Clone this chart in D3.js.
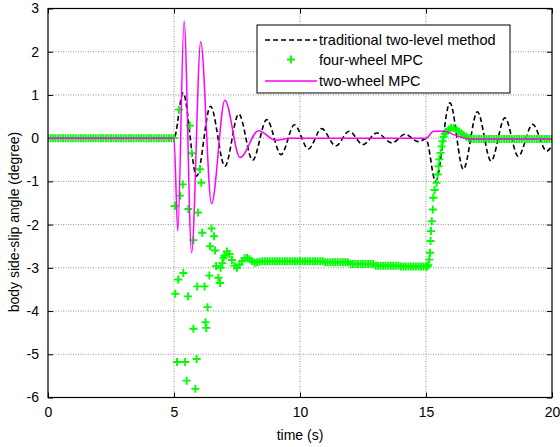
<!DOCTYPE html>
<html>
<head>
<meta charset="utf-8">
<script src="https://cdn.jsdelivr.net/npm/d3@7"></script>
<style>
  body { margin: 0; background: #fff; }
  text { font-family: Arial, "Liberation Sans", sans-serif; }
</style>
</head>
<body>
<div id="canvas"></div>
<script>
/**
 * Chart data
 */
const timeTicks = [0, 5, 10, 15, 20];
const angleTicks = [-6, -5, -4, -3, -2, -1, 0, 1, 2, 3];

const seriesNames = ["traditional two-level method", "four-wheel MPC", "two-wheel MPC"];

// traditional two-level method (peaks and troughs)
const twoLevelT = [0, 5.0, 5.36, 5.90, 6.45, 7.02, 7.57, 8.12, 8.68, 9.25, 9.78, 10.33, 10.86, 11.42, 11.95,
    12.5, 13.05, 13.65, 14.17, 14.7, 15.0, 15.38, 15.95, 16.48, 17.04, 17.58, 18.13, 18.66, 19.23, 19.79, 20];
const twoLevelY = [0, 0, 1.05, -0.88, 0.74, -0.65, 0.56, -0.51, 0.43, -0.38, 0.31, -0.25, 0.22, -0.18, 0.16,
    -0.15, 0.12, -0.11, 0.09, -0.08, -0.02, -1.0, 0.82, -0.72, 0.61, -0.53, 0.47, -0.42, 0.32, -0.30, -0.16];

// two-wheel MPC
const twoWheelT = [0, 5.0, 5.15, 5.40, 5.70, 6.06, 6.49, 7.02, 7.62, 8.35, 9.05, 9.6, 15.0, 15.3, 15.7, 16.2, 16.75, 20];
const twoWheelY = [0, 0, -2.15, 2.71, -2.65, 2.23, -1.52, 0.88, -0.45, 0.17, -0.05, 0.0, 0.0, 0.16, 0.16, 0.06, -0.02, -0.02];

// four-wheel MPC, sampled every 0.1 s where the markers are dense
const fourWheelStep = 0.1;
const fourWheelPre = [
    0, 0, 0, 0, 0, 0, 0, 0, 0, 0,
    0, 0, 0, 0, 0, 0, 0, 0, 0, 0,
    0, 0, 0, 0, 0, 0, 0, 0, 0, 0,
    0, 0, 0, 0, 0, 0, 0, 0, 0, 0,
    0, 0, 0, 0, 0, 0, 0, 0, 0, 0, 0
]; // 0.0 .. 5.0 s

// scattered markers during the manoeuvre
const fourWheelScatter = [
    [5.04, -1.57], [5.05, -3.6], [5.12, -5.18], [5.17, -3.27], [5.2, 0.66], [5.24, -1.33],
    [5.35, -1.07], [5.37, -3.12], [5.44, -5.18], [5.5, -5.61], [5.57, -1.64], [5.56, -3.66],
    [5.63, 0.29], [5.70, -0.35], [5.77, -2.36], [5.77, -4.41], [5.85, -5.8], [5.92, -3.43],
    [5.9, -5.11], [5.95, -1.72], [6.03, -0.72], [6.08, -1.03], [6.12, -2.19], [6.21, -3.43],
    [6.25, -4.26], [6.28, -4.39], [6.33, -3.91], [6.43, -2.5], [6.40, -3.18], [6.49, -2.09],
    [6.59, -2.27], [6.63, -2.6], [6.67, -2.96], [6.76, -3.23], [6.83, -3.35], [6.85, -3.0],
    [6.96, -2.77], [6.92, -2.89]
];

const fourWheelHold = [
    -2.72, -2.62, -2.68, -2.82, -2.95, -3.0, -2.93, -2.84, -2.78, -2.77,
    -2.80, -2.85, -2.88, -2.87, -2.86, -2.85, -2.85, -2.85, -2.85, -2.85,
    -2.85, -2.85, -2.85, -2.85, -2.85, -2.85, -2.85, -2.85, -2.85, -2.85,
    -2.85, -2.85, -2.85, -2.85, -2.85, -2.85, -2.85, -2.85, -2.85, -2.85,
    -2.87, -2.87, -2.87, -2.87, -2.87, -2.87, -2.87, -2.87, -2.87, -2.87,
    -2.91, -2.91, -2.91, -2.91, -2.91, -2.91, -2.91, -2.91, -2.91, -2.91,
    -2.95, -2.95, -2.95, -2.95, -2.95, -2.95, -2.95, -2.95, -2.95, -2.95,
    -2.97, -2.97, -2.97, -2.97, -2.97, -2.97, -2.97, -2.97, -2.97, -2.97, -2.97
]; // 7.0 .. 15.0 s

const fourWheelRise = [
    [15.05, -2.97], [15.09, -2.94], [15.13, -2.81], [15.16, -2.65], [15.18, -2.38], [15.2, -2.15],
    [15.23, -1.92], [15.27, -1.65], [15.29, -1.38], [15.34, -1.2], [15.42, -1.03], [15.46, -0.84],
    [15.5, -0.65], [15.53, -0.49], [15.58, -0.34], [15.62, -0.19], [15.66, -0.07], [15.7, 0.03],
    [15.75, 0.1], [15.8, 0.15], [15.9, 0.2], [16.0, 0.24], [16.1, 0.23], [16.2, 0.2],
    [16.3, 0.16], [16.4, 0.11], [16.5, 0.07], [16.6, 0.03], [16.7, 0.0], [16.8, -0.02]
];

const fourWheelEnd = [
    -0.02, -0.02, -0.02, -0.02, -0.02, -0.02, -0.02, -0.02, -0.02, -0.02,
    -0.02, -0.02, -0.02, -0.02, -0.02, -0.02, -0.02, -0.02, -0.02, -0.02,
    -0.02, -0.02, -0.02, -0.02, -0.02, -0.02, -0.02, -0.02, -0.02, -0.02,
    -0.02, -0.02
]; // 16.9 .. 20.0 s

/**
 * Helper Functions
 */
const zipSeries = (ts, ys) => ts.map((t, i) => ({ t: t, y: ys[i] }));

const sampled = (values, t0) => values.map((y, i) => ({ t: t0 + i * fourWheelStep, y: y }));

const plusMark = "M-4,0H4M0,-4V4";

function drawChart() {
    // set the dimensions and margins of the graph
    let margin = {top: 8.5, right: 8, bottom: 49.5, left: 48},
        width = 560 - margin.left - margin.right,
        height = 447 - margin.top - margin.bottom;

    let svg = d3.select("#canvas")
        .append("svg")
        .attr("width", 560)
        .attr("height", 447);

    let g = svg.append("g")
        .attr("transform", "translate(" + margin.left + "," + margin.top + ")");

    let x = d3.scaleLinear().domain([0, 20]).range([0, width]);
    let y = d3.scaleLinear().domain([-6, 3]).range([height, 0]);

    // grid
    g.append("g")
        .selectAll("line")
        .data(timeTicks.slice(1, -1))
        .enter().append("line")
        .attr("x1", d => x(d)).attr("x2", d => x(d))
        .attr("y1", 0).attr("y2", height)
        .attr("stroke", "#777").attr("stroke-width", 0.8).attr("stroke-dasharray", "1,1.5");
    g.append("g")
        .selectAll("line")
        .data(angleTicks.slice(1, -1))
        .enter().append("line")
        .attr("y1", d => y(d)).attr("y2", d => y(d))
        .attr("x1", 0).attr("x2", width)
        .attr("stroke", "#777").attr("stroke-width", 0.8).attr("stroke-dasharray", "1,1.5");

    // axes: ticks on all four sides pointing inwards
    let xAxis = g.append("g")
        .attr("transform", "translate(0," + height + ")")
        .call(d3.axisBottom(x).tickValues(timeTicks).tickFormat(d3.format("d")).tickSizeInner(-5).tickSizeOuter(0).tickPadding(10));
    let yAxis = g.append("g")
        .call(d3.axisLeft(y).tickValues(angleTicks).tickFormat(d => d < 0 ? "-" + Math.abs(d) : d).tickSizeInner(-5).tickSizeOuter(0).tickPadding(9));
    g.append("g")
        .call(d3.axisTop(x).tickValues(timeTicks).tickFormat("").tickSizeInner(-5).tickSizeOuter(0));
    g.append("g")
        .attr("transform", "translate(" + width + ",0)")
        .call(d3.axisRight(y).tickValues(angleTicks).tickFormat("").tickSizeInner(-5).tickSizeOuter(0));

    g.selectAll(".domain").remove();
    g.selectAll(".tick line").attr("stroke", "#000");
    [xAxis, yAxis].forEach(a => a.selectAll("text")
        .attr("font-size", "14px")
        .attr("fill", "#000")
        .attr("font-family", "Arial, 'Liberation Sans', sans-serif"));

    // clip the series to the plot area
    g.append("defs").append("clipPath")
        .attr("id", "clip")
        .append("rect")
        .attr("width", width).attr("height", height);

    let plot = g.append("g").attr("clip-path", "url(#clip)");

    let line = d3.line()
        .x(d => x(d.t))
        .y(d => y(d.y))
        .curve(d3.curveMonotoneX);

    // traditional two-level method
    plot.append("path")
        .datum(zipSeries(twoLevelT, twoLevelY))
        .attr("fill", "none")
        .attr("stroke", "#000")
        .attr("stroke-width", 1.6)
        .attr("stroke-dasharray", "5,3")
        .attr("d", line);

    // four-wheel MPC markers
    let fourWheel = []
        .concat(sampled(fourWheelPre, 0))
        .concat(fourWheelScatter.map(p => ({ t: p[0], y: p[1] })))
        .concat(sampled(fourWheelHold, 7.0))
        .concat(fourWheelRise.map(p => ({ t: p[0], y: p[1] })))
        .concat(sampled(fourWheelEnd, 16.9));

    plot.append("g")
        .selectAll("path")
        .data(fourWheel)
        .enter().append("path")
        .attr("transform", d => "translate(" + x(d.t) + "," + y(d.y) + ")")
        .attr("d", plusMark)
        .attr("stroke", "#00ff00")
        .attr("stroke-width", 1.9);

    // two-wheel MPC
    plot.append("path")
        .datum(zipSeries(twoWheelT, twoWheelY))
        .attr("fill", "none")
        .attr("stroke", "#ff00ff")
        .attr("stroke-width", 1.5)
        .attr("d", line);

    // box
    g.append("rect")
        .attr("width", width).attr("height", height)
        .attr("fill", "none").attr("stroke", "#000").attr("stroke-width", 1.2);

    // axis labels
    svg.append("text")
        .attr("x", margin.left + width / 2)
        .attr("y", 440)
        .attr("text-anchor", "middle")
        .attr("font-size", "14px")
        .text("time (s)");
    svg.append("text")
        .attr("transform", "translate(19,222) rotate(-90)")
        .attr("text-anchor", "middle")
        .attr("font-size", "14px")
        .text("body side-slip angle (degree)");

    // legend
    let legend = svg.append("g").attr("transform", "translate(257,25)");
    legend.append("rect")
        .attr("width", 253).attr("height", 68)
        .attr("fill", "#fff").attr("stroke", "#000").attr("stroke-width", 1);

    let rowY = [15, 34.5, 56];
    legend.append("line")
        .attr("x1", 8).attr("x2", 60).attr("y1", rowY[0]).attr("y2", rowY[0])
        .attr("stroke", "#000").attr("stroke-width", 1.6).attr("stroke-dasharray", "5,3");
    legend.append("path")
        .attr("transform", "translate(34," + rowY[1] + ")")
        .attr("d", plusMark)
        .attr("stroke", "#00ff00").attr("stroke-width", 1.9);
    legend.append("line")
        .attr("x1", 8).attr("x2", 60).attr("y1", rowY[2]).attr("y2", rowY[2])
        .attr("stroke", "#ff00ff").attr("stroke-width", 1.5);

    legend.selectAll(".label")
        .data(seriesNames)
        .enter().append("text")
        .attr("class", "label")
        .attr("x", 62)
        .attr("y", (d, i) => rowY[i] + 5)
        .attr("font-size", "14.5px")
        .text(d => d);
}

drawChart();
</script>
</body>
</html>
